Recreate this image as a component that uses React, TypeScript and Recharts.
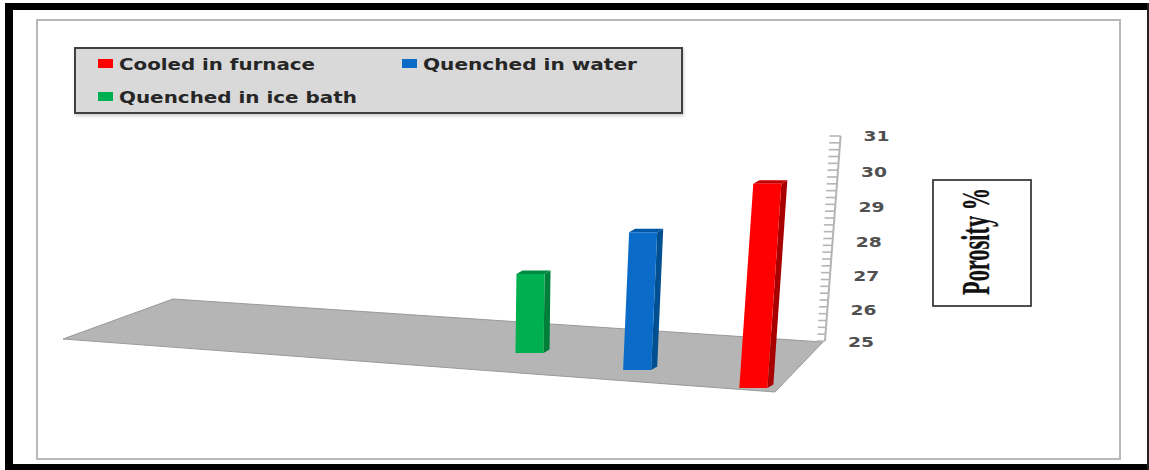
import React from "react";
import { BarChart, Bar, XAxis, YAxis, Legend, Label } from "recharts";

// Porosity of the samples by cooling route; each route occupies one slot on the floor.
const slots = ["a", "b", "c", "ice", "water", "furnace"];
const cooledInFurnace = [null, null, null, null, null, 30];
const quenchedInWater = [null, null, null, null, 28.6, null];
const quenchedInIceBath = [null, null, null, 27.2, null, null];
const axisTicks = [
  25, 25.2, 25.4, 25.6, 25.8, 26, 26.2, 26.4, 26.6, 26.8, 27, 27.2, 27.4, 27.6, 27.8, 28,
  28.2, 28.4, 28.6, 28.8, 29, 29.2, 29.4, 29.6, 29.8, 30, 30.2, 30.4, 30.6, 30.8, 31,
];

const rows = slots.map((slot, i) => ({
  slot,
  furnace: cooledInFurnace[i],
  water: quenchedInWater[i],
  ice: quenchedInIceBath[i],
}));

const WIDTH = 1149;
const HEIGHT = 470;

// Perspective applied to each column: nearer columns sit lower and read taller.
const furnaceView = { shift: 9.5, drop: 47, grow: 1.195, lean: 14, side: "#a80000", cap: "#c40000" };
const waterView = { shift: -22.5, drop: 29, grow: 1.12, lean: 6, side: "#004f90", cap: "#0058a8" };
const iceView = { shift: -46, drop: 12, grow: 1.05, lean: 1, side: "#007f3a", cap: "#008c40" };

// The value labels drift slightly below their ticks in the middle of the axis.
const labelDrop: Record<number, number> = { 25: 1, 26: 3, 27: 3, 28: 3, 29: 3, 30: 2, 31: 0 };

const legendWidths: Record<string, number> = {
  "Cooled in furnace": 196,
  "Quenched in water": 214,
  "Quenched in ice bath": 238,
};

type View = typeof furnaceView;

function column(props: any, view: View) {
  const { x, y, width, height, fill } = props;
  if (!height || height <= 0) return <g />;
  const cx = x + width / 2 + view.shift;
  const half = (width * 1.17) / 2;
  const base = y + height + view.drop;
  const top = base - height * view.grow;
  const l0 = cx - half;
  const r0 = cx + half;
  const l1 = l0 + view.lean;
  const r1 = r0 + view.lean;
  const d = 6;
  const rise = 3.5;
  return (
    <g>
      <polygon
        points={`${r0},${base} ${r0 + d},${base - rise} ${r1 + d},${top - rise} ${r1},${top}`}
        fill={view.side}
      />
      <polygon
        points={`${l1},${top} ${r1},${top} ${r1 + d},${top - rise} ${l1 + d},${top - rise}`}
        fill={view.cap}
      />
      <polygon points={`${l0},${base} ${r0},${base} ${r1},${top} ${l1},${top}`} fill={fill} />
    </g>
  );
}

// Slanted value axis: each tick draws its own mark and the axis run up to the next tick.
function SlantedTick(props: any) {
  const { x, y, payload } = props;
  const v: number = payload.value;
  const run = (v - 25) * 2.6;
  const ax = x + 3 + run;
  const whole = Math.round(v);
  const isWhole = Math.abs(v - whole) < 1e-6;
  const reach = 8 + (v - 25) * 0.5;
  const step = 34.17 * 0.2;
  return (
    <g>
      <line x1={ax - reach} y1={y} x2={ax} y2={y} stroke="#b4b4b4" strokeWidth={1.6} />
      {v < 30.99 && (
        <line x1={ax} y1={y} x2={ax + 0.52} y2={y - step} stroke="#b4b4b4" strokeWidth={2} />
      )}
      {isWhole && (
        <text
          x={x + 26 + (v - 25) * 2.6}
          y={y + 5 + labelDrop[whole]}
          fontFamily="'DejaVu Sans', sans-serif"
          fontWeight="bold"
          fontSize={14}
          fill="#505050"
          textLength={26}
          lengthAdjust="spacingAndGlyphs"
        >
          {whole}
        </text>
      )}
    </g>
  );
}

function PorosityTitle() {
  return (
    <g>
      <rect x={933} y={180} width={98} height={126} fill="#fff" stroke="#3c3c3c" strokeWidth={1.8} />
      <text
        transform="translate(989 295) rotate(-90)"
        fontFamily="'Liberation Serif', serif"
        fontWeight="bold"
        fontSize={41}
        fill="#111"
        stroke="#111"
        strokeWidth={0.3}
        textLength={107}
        lengthAdjust="spacingAndGlyphs"
      >
        Porosity %
      </text>
    </g>
  );
}

function LegendBox({ payload }: any) {
  const items = payload ?? [];
  return (
    <svg width={605} height={63} style={{ display: "block" }}>
      {items.map((item: any, i: number) => {
        const col = i % 2;
        const row = Math.floor(i / 2);
        const ox = 22 + col * 304;
        const oy = 10 + row * 33;
        return (
          <g key={item.value}>
            <rect x={ox} y={oy} width={15} height={9} fill={item.color} />
            <text
              x={ox + 21}
              y={oy + 11}
              fontFamily="'DejaVu Sans', sans-serif"
              fontWeight="bold"
              fontSize={15}
              fill="#262626"
              textLength={legendWidths[item.value]}
              lengthAdjust="spacingAndGlyphs"
            >
              {item.value}
            </text>
          </g>
        );
      })}
    </svg>
  );
}

export default function App() {
  return (
    <div style={{ position: "absolute", left: 0, top: 0, width: WIDTH, height: HEIGHT, background: "#fff" }}>
      {/* Page frame, chart panel and the grey floor sit behind the plot */}
      <svg width={WIDTH} height={HEIGHT} style={{ position: "absolute", left: 0, top: 0 }}>
        <rect x={5} y={3} width={1144} height={7} fill="#000" />
        <rect x={5} y={3} width={8} height={467} fill="#000" />
        <rect x={5} y={464} width={1144} height={6} fill="#000" />
        <rect x={1147} y={3} width={2} height={467} fill="#222" />
        <rect x={37} y={20} width={1083} height={439} fill="#fff" stroke="#b8b8b8" strokeWidth={2} />
        <polygon
          points="63,339 173,299 823,342 775,392"
          fill="#b5b5b5"
          stroke="#999"
          strokeWidth={1}
        />
      </svg>
      <div style={{ position: "absolute", left: 0, top: 0 }}>
        <BarChart
          width={WIDTH}
          height={HEIGHT}
          data={rows}
          barSize={24}
          barGap={0}
          barCategoryGap={0}
          margin={{ top: 136, bottom: 129, left: 173, right: 267 }}
        >
          <XAxis dataKey="slot" hide />
          <YAxis
            orientation="right"
            width={60}
            domain={[25, 31]}
            ticks={axisTicks}
            interval={0}
            tickSize={0}
            tickMargin={0}
            axisLine={false}
            tickLine={false}
            tick={SlantedTick}
          >
            <Label content={PorosityTitle} />
          </YAxis>
          <Legend
            layout="horizontal"
            align="center"
            verticalAlign="middle"
            itemSorter={null}
            content={LegendBox}
            wrapperStyle={{
              position: "absolute",
              left: 74,
              top: 47,
              width: 609,
              height: 67,
              boxSizing: "border-box",
              background: "#d9d9d9",
              border: "2px solid #404040",
              boxShadow: "1px 2px 3px rgba(0,0,0,0.2)",
            }}
          />
          <Bar
            dataKey="furnace"
            name="Cooled in furnace"
            fill="#ff0000"
            isAnimationActive={false}
            shape={(p: any) => column(p, furnaceView)}
          />
          <Bar
            dataKey="water"
            name="Quenched in water"
            fill="#0a6cc8"
            isAnimationActive={false}
            shape={(p: any) => column(p, waterView)}
          />
          <Bar
            dataKey="ice"
            name="Quenched in ice bath"
            fill="#00b050"
            isAnimationActive={false}
            shape={(p: any) => column(p, iceView)}
          />
        </BarChart>
      </div>
    </div>
  );
}
